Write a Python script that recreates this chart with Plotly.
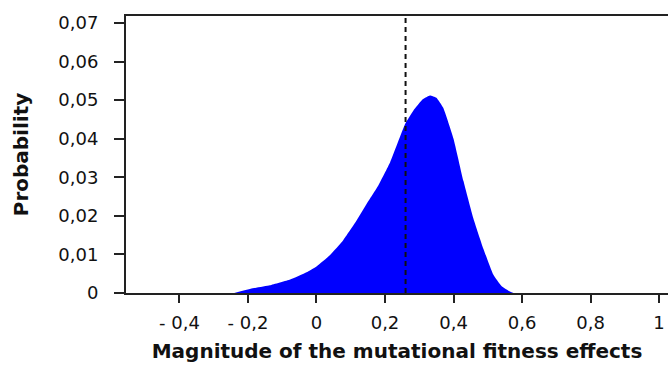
import plotly.graph_objects as go

# Data
x_vals = [-0.24, -0.192, -0.136, -0.077, -0.029, 0.0, 0.039, 0.078, 0.117, 0.147, 0.18,
          0.215, 0.258, 0.283, 0.31, 0.331, 0.35, 0.37, 0.4, 0.429, 0.458,
          0.487, 0.516, 0.54, 0.56, 0.575]
prob = [0.0, 0.0011, 0.002, 0.0035, 0.0054, 0.0069, 0.0098, 0.0137, 0.0188, 0.0232, 0.0278,
        0.0339, 0.0437, 0.0473, 0.0502, 0.0512, 0.0506, 0.0480, 0.0400, 0.0290, 0.0193,
        0.0115, 0.0048, 0.0018, 0.0006, 0.0]
mean_line = 0.26

x_tickvals = [-0.4, -0.2, 0, 0.2, 0.4, 0.6, 0.8, 1.0]
x_ticktext = ["- 0,4", "- 0,2", "0", "0,2", "0,4", "0,6", "0,8", "1"]
y_tickvals = [0, 0.01, 0.02, 0.03, 0.04, 0.05, 0.06, 0.07]
y_ticktext = ["0", "0,01", "0,02", "0,03", "0,04", "0,05", "0,06", "0,07"]

tick_font = dict(family="DejaVu Sans", size=18, color="#111111")
title_font = dict(family="DejaVu Sans", size=20, color="#111111", weight="bold")

fig = go.Figure()
fig.add_trace(go.Scatter(
    x=x_vals, y=prob, mode="lines",
    line=dict(width=0, shape="spline", smoothing=0.35, color="#0000FF"),
    fill="tozeroy", fillcolor="#0000FF", hoverinfo="skip", showlegend=False))

fig.add_shape(type="line", x0=mean_line, x1=mean_line, xref="x", y0=0, y1=1, yref="paper",
              line=dict(color="#111111", width=2, dash="5px,4px"))

fig.update_layout(
    width=668, height=378,
    margin=dict(l=126, r=0, t=16, b=85),
    plot_bgcolor="white", paper_bgcolor="white",
    xaxis=dict(range=[-0.556, 1.026], tickvals=x_tickvals, ticktext=x_ticktext,
               showgrid=False, zeroline=False, showline=True, mirror=True,
               linecolor="#222222", linewidth=2, ticks="outside", ticklen=8, tickwidth=2,
               tickcolor="#222222", tickfont=tick_font, ticklabelstandoff=4,
               title=dict(text="Magnitude of the mutational fitness effects", font=title_font,
                          standoff=12)),
    yaxis=dict(range=[0, 0.0718], tickvals=y_tickvals, ticktext=y_ticktext,
               showgrid=False, zeroline=False, showline=True, mirror=False,
               linecolor="#222222", linewidth=2, ticks="outside", ticklen=10, tickwidth=2,
               tickcolor="#222222", tickfont=tick_font, ticklabelstandoff=12,
               title=dict(text="Probability", font=title_font, standoff=24)),
)

fig.write_html("out.html")
